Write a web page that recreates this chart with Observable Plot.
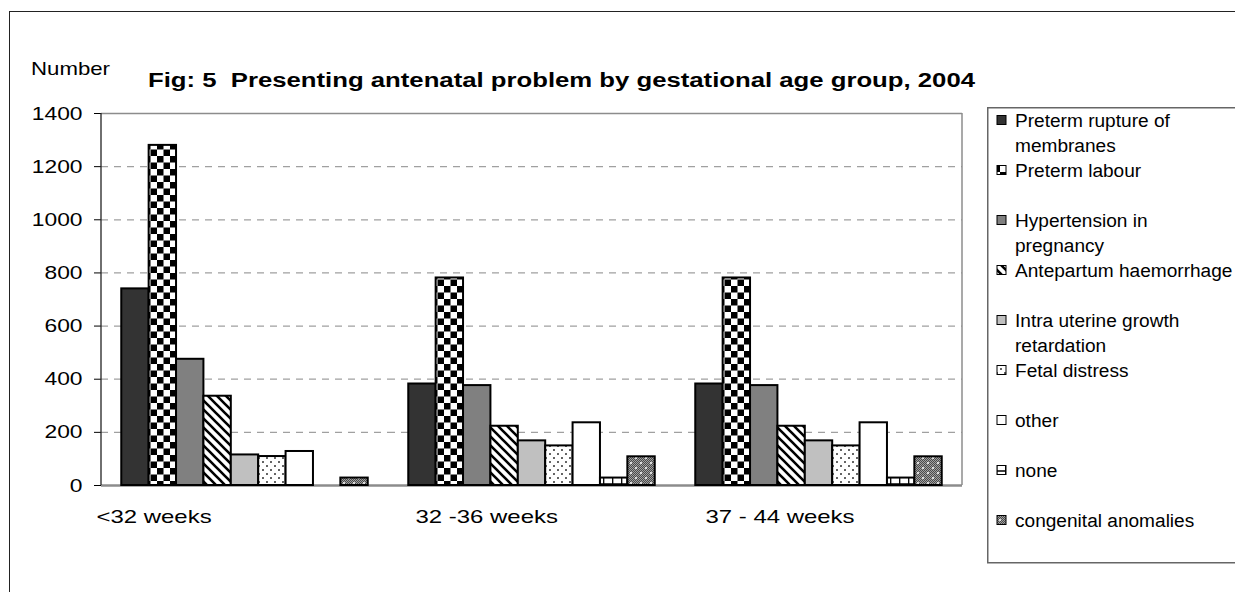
<!DOCTYPE html>
<html><head><meta charset="utf-8">
<script src="https://cdn.jsdelivr.net/npm/d3@7"></script>
<script src="https://cdn.jsdelivr.net/npm/@observablehq/plot@0.6"></script>
<style>
body{margin:0;background:#fff;}
#wrap{position:relative;width:1235px;height:592px;overflow:hidden;background:#fff;font-family:"Liberation Sans",Arial,sans-serif;}
</style></head><body>
<div id="wrap"></div>
<script>
// ---- data ----
const title = "Fig: 5  Presenting antenatal problem by gestational age group, 2004";
const yLabel = "Number";
const groups = ["<32 weeks", "32 -36 weeks", "37 - 44 weeks"];
const series = ["Preterm rupture of membranes", "Preterm labour", "Hypertension in pregnancy", "Antepartum haemorrhage", "Intra uterine growth retardation", "Fetal distress", "other", "none", "congenital anomalies"];
const valuesLt32 = [740, 1280, 475, 336, 115, 109, 128, 0, 28];
const values32to36 = [382, 781, 376, 223, 168, 149, 236, 28, 108];
const values37to44 = [382, 781, 376, 223, 168, 149, 236, 28, 108];
const yTicks = [0, 200, 400, 600, 800, 1000, 1200, 1400];

const groupValues = [valuesLt32, values32to36, values37to44];
const data = groups.flatMap((g, gi) => series.map((s, si) => ({group: g, series: s, value: groupValues[gi][si]}))).filter(d => d.value > 0);

// ---- styles ----
const FONT = "Liberation Sans, Arial, sans-serif";
const fills = ["#333333", "url(#pLabour)", "#808080", "url(#pAph)", "#c0c0c0", "url(#pFetal)", "#ffffff", "url(#pNone)", "url(#pCong)"];

const wrap = d3.select("#wrap");

// outer border
wrap.append("div").style("position","absolute").style("left","9px").style("top","11px")
  .style("width","1300px").style("height","700px").style("border","1.5px solid #222")
  .style("box-sizing","border-box").style("z-index","5").style("pointer-events","none");

// pattern defs
const defs = wrap.append("svg").attr("width",0).attr("height",0).style("position","absolute").append("defs");
function pat(id, w, h) {
  return defs.append("pattern").attr("id", id).attr("patternUnits","userSpaceOnUse").attr("width", w).attr("height", h);
}
let p = pat("pLabour", 13, 13);
p.append("rect").attr("width",13).attr("height",13).attr("fill","#fff");
p.append("rect").attr("width",6.5).attr("height",6.5).attr("fill","#000");
p.append("rect").attr("x",6.5).attr("y",6.5).attr("width",6.5).attr("height",6.5).attr("fill","#000");
p = pat("pAph", 9, 9);
p.append("rect").attr("width",9).attr("height",9).attr("fill","#fff");
p.append("path").attr("d","M-1,-1L10,10M-1,8L1,10M8,-1L10,1").attr("stroke","#000").attr("stroke-width",2.6);
p = pat("pFetal", 8, 8);
p.append("rect").attr("width",8).attr("height",8).attr("fill","#fff");
p.append("circle").attr("cx",2).attr("cy",2).attr("r",0.95).attr("fill","#222");
p.append("circle").attr("cx",6).attr("cy",6).attr("r",0.95).attr("fill","#222");
p = pat("pNone", 9, 8);
p.append("rect").attr("width",9).attr("height",8).attr("fill","#fff");
p.append("path").attr("d","M0,4H9M0.7,0V8").attr("stroke","#000").attr("stroke-width",1.3);
p = pat("pCongBase", 2, 2);
p.append("rect").attr("width",2).attr("height",2).attr("fill","#4a4a4a");
p.append("rect").attr("width",1).attr("height",1).attr("fill","#a0a0a0");
p.append("rect").attr("x",1).attr("y",1).attr("width",1).attr("height",1).attr("fill","#a0a0a0");
p = pat("pCong", 10, 10);
p.append("rect").attr("width",10).attr("height",10).attr("fill","url(#pCongBase)");
p.append("circle").attr("cx",3).attr("cy",3).attr("r",1).attr("fill","#fff");
p.append("circle").attr("cx",8).attr("cy",8).attr("r",1).attr("fill","#fff");

// ---- chart ----
const labelDx = [-5, 27, 30];
const chart = Plot.plot({
  width: 980, height: 560,
  marginLeft: 100, marginRight: 17, marginTop: 113, marginBottom: 75,
  style: {background: "transparent", fontFamily: FONT, fontSize: "19px", color: "#000", overflow: "visible"},
  fx: {domain: groups, padding: 0, axis: null, label: null},
  x: {domain: series, paddingInner: 0, paddingOuter: 0.74, axis: null, round: false},
  y: {domain: [0, 1400], ticks: yTicks, tickSize: 7, tickPadding: 12, label: null, tickFormat: d => String(d)},
  color: {domain: series, range: fills},
  marks: [
    Plot.ruleY(yTicks.filter(t => t > 0 && t < 1400), {stroke: "#a0a0a0", strokeWidth: 1.3, strokeDasharray: "7,6"}),
    Plot.ruleY([1400], {stroke: "#8c8c8c", strokeWidth: 1.5}),
    Plot.ruleY([0], {stroke: "#8c8c8c", strokeWidth: 2.5}),
    Plot.barY(data, {fx: "group", x: "series", y: "value", fill: "series", stroke: "#000", strokeWidth: 2}),
    ...groups.map((g, i) => Plot.text([g], {fx: d => d, text: d => d, frameAnchor: "bottom-left", textAnchor: "start", dx: labelDx[i], dy: 37, fontSize: 19, fill: "#000"}))
  ]
});
d3.select(chart).style("position","absolute").style("left","0px").style("top","0px");
wrap.node().appendChild(chart);

// vertical frame lines from the scales
const fxS = chart.scale("fx"), yS = chart.scale("y");
const xLeft = fxS.apply(groups[0]);
const xRight = fxS.apply(groups[2]) + fxS.bandwidth;
const yTop = yS.apply(1400), yBot = yS.apply(0);
const cs = d3.select(chart);
cs.append("line").attr("x1", xRight).attr("x2", xRight).attr("y1", yTop).attr("y2", yBot).attr("stroke","#8c8c8c").attr("stroke-width",1.5);
cs.append("line").attr("x1", xLeft).attr("x2", xLeft).attr("y1", yTop).attr("y2", yBot).attr("stroke","#222").attr("stroke-width",1.3);

function stretch(node, k) {
  const len = node.getComputedTextLength();
  node.setAttribute("textLength", len * k);
  node.setAttribute("lengthAdjust", "spacingAndGlyphs");
}
cs.selectAll("text").each(function() {
  const t = this.textContent;
  stretch(this, groups.includes(t) ? 1.26 : 1.2);
});

// ---- title & axis label ----
const headSvg = wrap.append("svg").attr("width",1235).attr("height",100).style("position","absolute").style("left","0px").style("top","0px");
headSvg.append("text").attr("x",148).attr("y",87).attr("font-family",FONT).attr("font-weight","bold").attr("font-size",20)
  .attr("fill","#000").style("white-space","pre").attr("xml:space","preserve").text(title)
  .attr("textLength", 827).attr("lengthAdjust","spacingAndGlyphs");
headSvg.append("text").attr("x",31).attr("y",75).attr("font-family",FONT).attr("font-size",19).attr("fill","#000").text(yLabel)
  .attr("textLength", 79).attr("lengthAdjust","spacingAndGlyphs");

// ---- legend ----
const leg = wrap.append("svg").attr("width",260).attr("height",470).style("position","absolute").style("left","987px").style("top","107px");
leg.append("rect").attr("x",0.75).attr("y",0.75).attr("width",400).attr("height",455).attr("fill","#fff").attr("stroke","#666").attr("stroke-width",1.5);
function wrapLabel(s) {
  if (s.length <= 22) return [s];
  const i = s.lastIndexOf(" ");
  return [s.slice(0, i), s.slice(i + 1)];
}
series.forEach((s, i) => {
  const cy = 13 + 50 * i;
  leg.append("rect").attr("x",10).attr("y",cy - 4.5).attr("width",9).attr("height",9).attr("fill",fills[i]).attr("stroke","#000").attr("stroke-width",1);
  wrapLabel(s).forEach((line, j) => {
    const t = leg.append("text").attr("x",28).attr("y",cy + 6.5 + 25 * j).attr("font-family",FONT).attr("font-size",18).attr("fill","#000").text(line);
    stretch(t.node(), 1.06);
  });
});
</script>
</body></html>
